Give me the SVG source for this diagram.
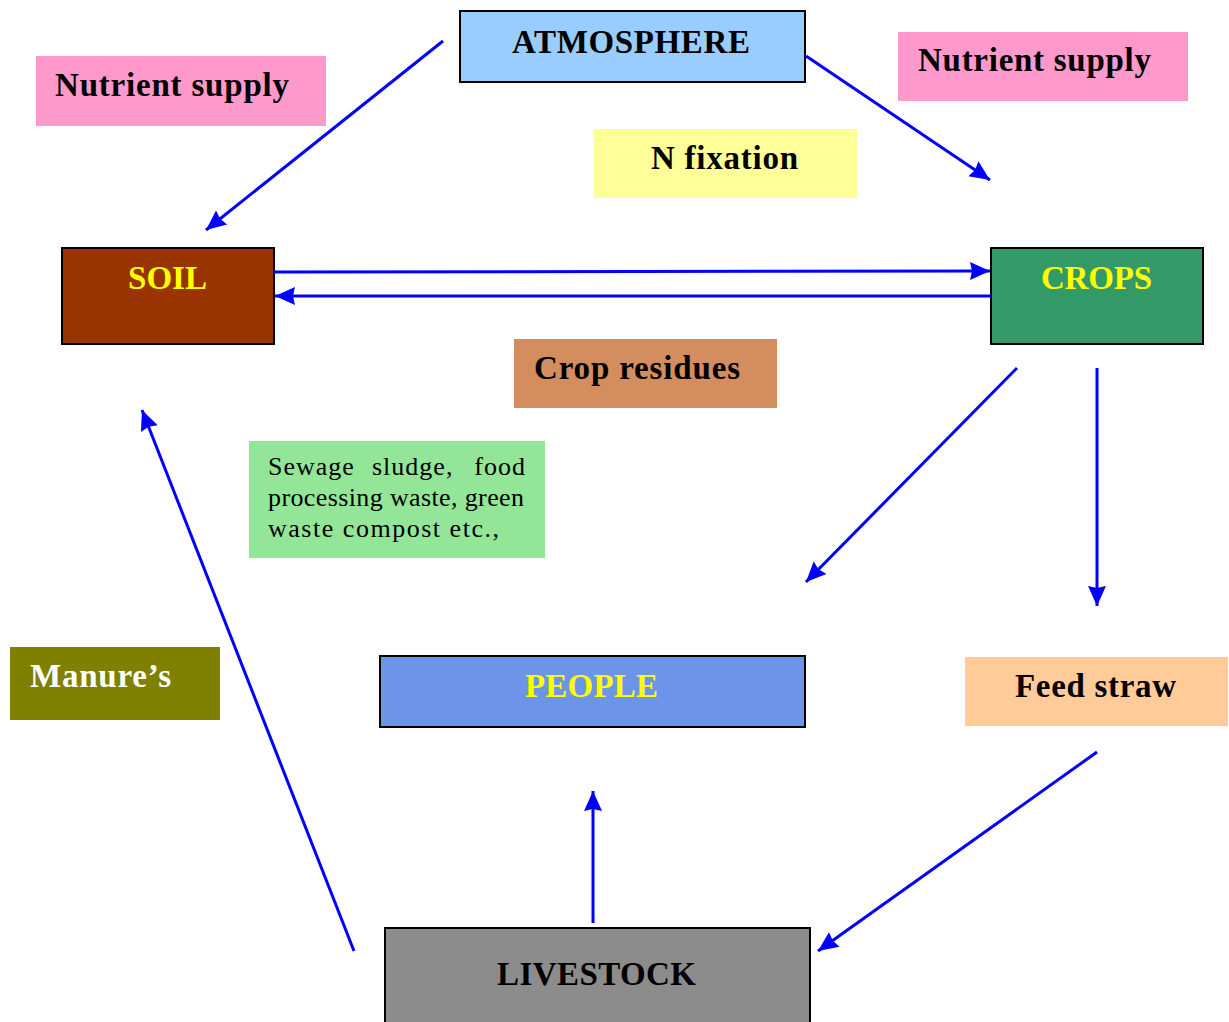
<svg xmlns="http://www.w3.org/2000/svg" width="1229" height="1022" viewBox="0 0 1229 1022">
<style>
.node{stroke:#000;stroke-width:2}
.t{font-family:"Liberation Serif","Times New Roman",serif;font-weight:bold;font-size:33px}
.s{font-family:"Liberation Serif","Times New Roman",serif;font-size:26px;letter-spacing:1px;fill:#000}
.c{stroke:#0000FF;stroke-width:3;fill:none;marker-end:url(#ah)}
</style>
<defs>
<marker id="ah" markerUnits="userSpaceOnUse" markerWidth="22" markerHeight="20" refX="20" refY="10" orient="auto">
<path d="M0,1 L20,10 L0,19 L2,10 Z" fill="#0000FF"/>
</marker>
</defs>
<rect width="1229" height="1022" fill="#fff"/>
<g id="atmosphere"><rect class="node" x="460" y="11" width="345" height="71" fill="#99CCFF"/><text class="t" x="512" y="53" textLength="238" fill="#000">ATMOSPHERE</text></g>
<g id="soil"><rect class="node" x="62" y="248" width="212" height="96" fill="#993300"/><text class="t" x="128" y="289" textLength="79" fill="#FFFF00">SOIL</text></g>
<g id="crops"><rect class="node" x="991" y="248" width="212" height="96" fill="#339966"/><text class="t" x="1041" y="289" textLength="111" fill="#FFFF00">CROPS</text></g>
<g id="people"><rect class="node" x="380" y="656" width="425" height="71" fill="#6C94E8"/><text class="t" x="525" y="697" textLength="133" fill="#FFFF00">PEOPLE</text></g>
<g id="livestock"><rect class="node" x="385" y="928" width="425" height="100" fill="#8C8C8C"/><text class="t" x="497" y="985" textLength="199" fill="#000">LIVESTOCK</text></g>
<g id="nutrient-left"><rect x="36" y="56" width="290" height="70" fill="#FF99CC"/><text class="t" x="55" y="96" textLength="234" fill="#000">Nutrient supply</text></g>
<g id="nutrient-right"><rect x="898" y="32" width="290" height="69" fill="#FF99CC"/><text class="t" x="918" y="71" textLength="233" fill="#000">Nutrient supply</text></g>
<g id="n-fixation"><rect x="594" y="129" width="263" height="69" fill="#FFFF99"/><text class="t" x="651" y="169" textLength="147" fill="#000">N fixation</text></g>
<g id="crop-residues"><rect x="514" y="339" width="263" height="69" fill="#D38D5F"/><text class="t" x="534" y="379" textLength="206" fill="#000">Crop residues</text></g>
<g id="sewage"><rect x="249" y="441" width="296" height="117" fill="#93E697"/>
<text class="s" y="475"><tspan x="268">Sewage</tspan><tspan x="372">sludge,</tspan><tspan x="526" text-anchor="end">food</tspan></text>
<text class="s" x="268" y="506" textLength="257" lengthAdjust="spacing">processing waste, green</text>
<text class="s" x="268" y="537" textLength="232" lengthAdjust="spacing">waste compost etc.,</text></g>
<g id="manures"><rect x="10" y="647" width="210" height="73" fill="#808000"/><text class="t" x="30" y="687" textLength="141" fill="#FFFFFF">Manure’s</text></g>
<g id="feed-straw"><rect x="965" y="657" width="263" height="69" fill="#FFCC99"/><text class="t" x="1015" y="697" textLength="161" fill="#000">Feed straw</text></g>
<g id="connectors">
<line class="c" x1="443" y1="41" x2="206" y2="230"/>
<line class="c" x1="806" y1="56" x2="990" y2="180"/>
<line class="c" x1="274" y1="272" x2="990" y2="271"/>
<line class="c" x1="991" y1="296" x2="275" y2="296"/>
<line class="c" x1="1017" y1="368" x2="806" y2="582"/>
<line class="c" x1="1097" y1="368" x2="1097" y2="606"/>
<line class="c" x1="1097" y1="752" x2="818" y2="951"/>
<line class="c" x1="593" y1="923" x2="593" y2="791"/>
<line class="c" x1="354" y1="951" x2="142" y2="410"/>
</g>
</svg>
